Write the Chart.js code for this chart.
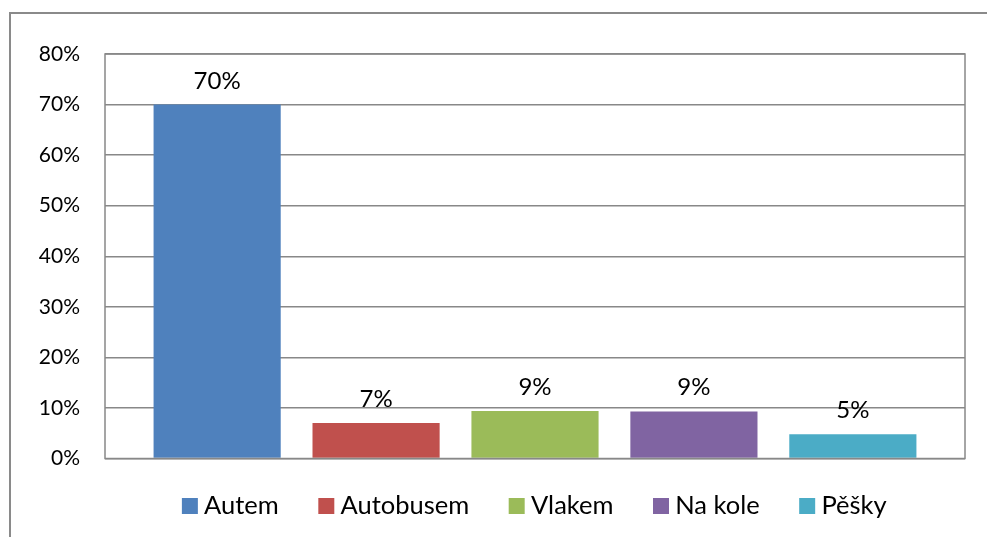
<!DOCTYPE html>
<html>
  <head>
    <title>Doprava</title>
    <script src="https://cdn.jsdelivr.net/npm/chart.js"></script>
    <style>
      body { margin: 0; background: #fff; }
      #wrap { width: 987px; height: 537px; }
    </style>
  </head>
  <body>
    <div id="wrap"><canvas id="myChart"></canvas></div>
    <script>
      var seriesNames = ["Autem", "Autobusem", "Vlakem", "Na kole", "Pěšky"];
      var seriesValues = [70, 7.0, 9.4, 9.3, 4.8];
      var seriesColors = ["#4F81BD", "#C0504D", "#9BBB59", "#8064A2", "#4BACC6"];
      var yTicks = [0, 10, 20, 30, 40, 50, 60, 70, 80];

      var gridColor = "#888888";

      // ctverecek legendy jako obrazek: mezera vlevo, ctverec tesne u textu
      function legendSwatch(color) {
        var c = document.createElement("canvas");
        c.width = 52;
        c.height = 16;
        var g = c.getContext("2d");
        g.fillStyle = color;
        g.fillRect(35, 0, 16, 16);
        return c;
      }

      // popisky nad sloupci
      var barLabels = {
        id: "barLabels",
        afterDatasetsDraw: function (chart) {
          var ctx = chart.ctx;
          ctx.save();
          ctx.font = "24px Lato";
          ctx.fillStyle = "#000";
          ctx.textAlign = "center";
          ctx.textBaseline = "alphabetic";
          chart.data.datasets.forEach(function (ds, i) {
            var bar = chart.getDatasetMeta(i).data[0];
            ctx.fillText(Math.round(ds.data[0]) + "%", bar.x, bar.y - 16);
          });
          ctx.restore();
        }
      };

      // ramecek grafu a oblasti, posun legendy doprava
      var frames = {
        id: "frames",
        afterLayout: function (chart) {
          if (chart.legend) chart.legend.left += 76;
        },
        beforeDraw: function (chart) {
          var ctx = chart.ctx;
          ctx.save();
          ctx.strokeStyle = "#8a8a8a";
          ctx.lineWidth = 2;
          ctx.beginPath();
          ctx.moveTo(10, 537);
          ctx.lineTo(10, 13);
          ctx.lineTo(987, 13);
          ctx.stroke();
          ctx.restore();
        },
        afterDatasetsDraw: function (chart) {
          var ctx = chart.ctx;
          var a = chart.chartArea;
          ctx.save();
          ctx.strokeStyle = gridColor;
          ctx.lineWidth = 1.5;
          ctx.strokeRect(a.left, a.top, a.right - a.left, a.bottom - a.top);
          ctx.restore();
        }
      };

      var datasets = seriesNames.map(function (name, i) {
        return {
          label: name,
          data: [seriesValues[i]],
          backgroundColor: seriesColors[i],
          borderWidth: 0,
          barPercentage: 0.8,
          categoryPercentage: 0.924
        };
      });

      var ctx = document.getElementById("myChart").getContext("2d");
      var myChart = new Chart(ctx, {
        type: "bar",
        data: { labels: [""], datasets: datasets },
        plugins: [frames, barLabels],
        options: {
          responsive: true,
          maintainAspectRatio: false,
          animation: false,
          layout: { padding: { left: 0, right: 22, top: 54, bottom: 8 } },
          plugins: {
            tooltip: { enabled: false },
            legend: {
              position: "bottom",
              labels: {
                font: { family: "Lato", size: 25.5 },
                color: "#000",
                usePointStyle: true,
                boxWidth: 37,
                boxHeight: 16,
                pointStyleWidth: 37,
                padding: 12,
                generateLabels: function (chart) {
                  return chart.data.datasets.map(function (ds, i) {
                    return {
                      text: ds.label,
                      fillStyle: ds.backgroundColor,
                      strokeStyle: ds.backgroundColor,
                      lineWidth: 0,
                      hidden: false,
                      datasetIndex: i,
                      fontColor: "#000",
                      pointStyle: legendSwatch(ds.backgroundColor)
                    };
                  });
                }
              }
            }
          },
          scales: {
            x: {
              ticks: { display: false },
              grid: { display: false },
              border: { display: false },
              afterFit: function (scale) { scale.height = 23; }
            },
            y: {
              min: 0,
              max: 80,
              afterBuildTicks: function (scale) {
                scale.ticks = yTicks.map(function (v) { return { value: v }; });
              },
              ticks: {
                callback: function (v) { return v + "%"; },
                font: { family: "Lato", size: 21 },
                color: "#000",
                padding: 25
              },
              grid: { color: gridColor, lineWidth: 1.5, drawTicks: false },
              border: { display: false },
              afterFit: function (scale) { scale.width = 105; }
            }
          }
        }
      });
    </script>
  </body>
</html>
